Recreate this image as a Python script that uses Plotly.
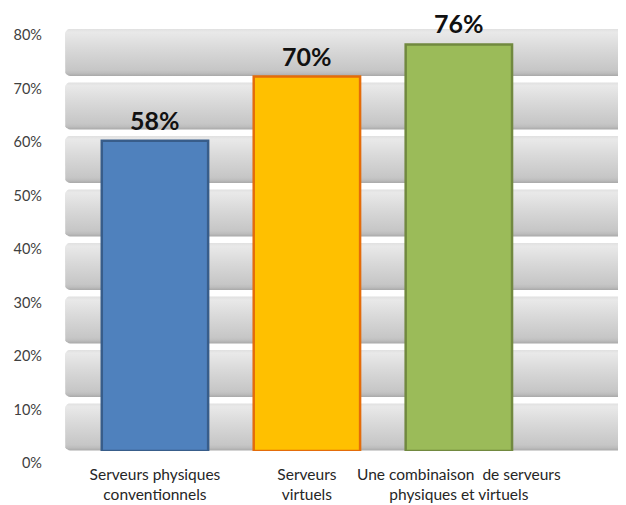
import numpy as np
import plotly.graph_objects as go

categories = ["Serveurs physiques<br>conventionnels",
              "Serveurs<br>virtuels",
              "Une combinaison  de serveurs<br>physiques et virtuels"]
values = [58, 70, 76]
bar_colors = ["#4f81bd", "#ffc000", "#9bbb59"]
bar_lines = ["#385d8a", "#e46c0a", "#71893f"]
y_ticks = [0, 10, 20, 30, 40, 50, 60, 70, 80]
y_tick_text = [f"{t}%" for t in y_ticks]

x_pos = list(range(len(categories)))
x_range = [-0.592, 3.1]
y_range = [0, 80]

fig = go.Figure()

# gradient background bands (one per 10% interval) on the base axes
rx, ry = 0.035, 0.9
for lo in y_ticks[:-1]:
    b0, b1 = lo + 0.1, lo + 8.9
    x0, x1 = x_range[0], x_range[1] + 0.2
    t = np.linspace(0, np.pi / 2, 6)
    xs = [x1, x0 + rx] + list(x0 + rx - rx * np.sin(t)) + list(x0 + rx - rx * np.cos(t)) + [x0 + rx, x1]
    ys = [b1, b1] + list(b1 - ry + ry * np.cos(t)) + list(b0 + ry - ry * np.sin(t)) + [b0, b0]
    fig.add_trace(go.Scatter(
        x=xs, y=ys, mode="lines", fill="toself",
        line=dict(width=0, color="rgba(0,0,0,0)"),
        fillgradient=dict(type="vertical",
                          colorscale=[[0, "#a9a9a9"], [0.06, "#bdbdbd"], [0.12, "#c6c6c6"],
                                      [0.6, "#dadada"], [0.93, "#e9e9e9"], [1, "#e0e0e0"]]),
        hoverinfo="skip", showlegend=False))

# bars on overlaying axes so they sit above the bands
fig.add_trace(go.Bar(
    x=x_pos, y=values, width=0.7, xaxis="x2", yaxis="y2",
    marker=dict(color=bar_colors, line=dict(color=bar_lines, width=2.5)),
    hoverinfo="skip", showlegend=False))

for xi, v in zip(x_pos, values):
    fig.add_annotation(x=xi, y=v, xref="x2", yref="y2", text=f"<b>{v}%</b>", showarrow=False,
                       yanchor="bottom", yshift=4,
                       font=dict(family="Lato", size=25, color="#111111"))

fig.update_layout(
    width=618, height=497,
    margin=dict(l=57, r=0, t=15, b=54),
    paper_bgcolor="white", plot_bgcolor="white",
    xaxis=dict(range=x_range, tickvals=x_pos, ticktext=categories, automargin=False,
               showgrid=False, zeroline=False, showline=False, ticks="",
               tickfont=dict(family="Lato", size=15.5, color="#262626"),
               ticklabelstandoff=12),
    yaxis=dict(range=y_range, tickvals=y_ticks, ticktext=y_tick_text, automargin=False,
               showgrid=False, zeroline=False, showline=False, ticks="",
               tickfont=dict(family="Lato", size=14.5, color="#404040"),
               ticklabelshift=12, ticklabelstandoff=22),
    xaxis2=dict(range=x_range, overlaying="x", visible=False, automargin=False),
    yaxis2=dict(range=y_range, overlaying="y", visible=False, automargin=False),
)

fig.write_html("out.html")
